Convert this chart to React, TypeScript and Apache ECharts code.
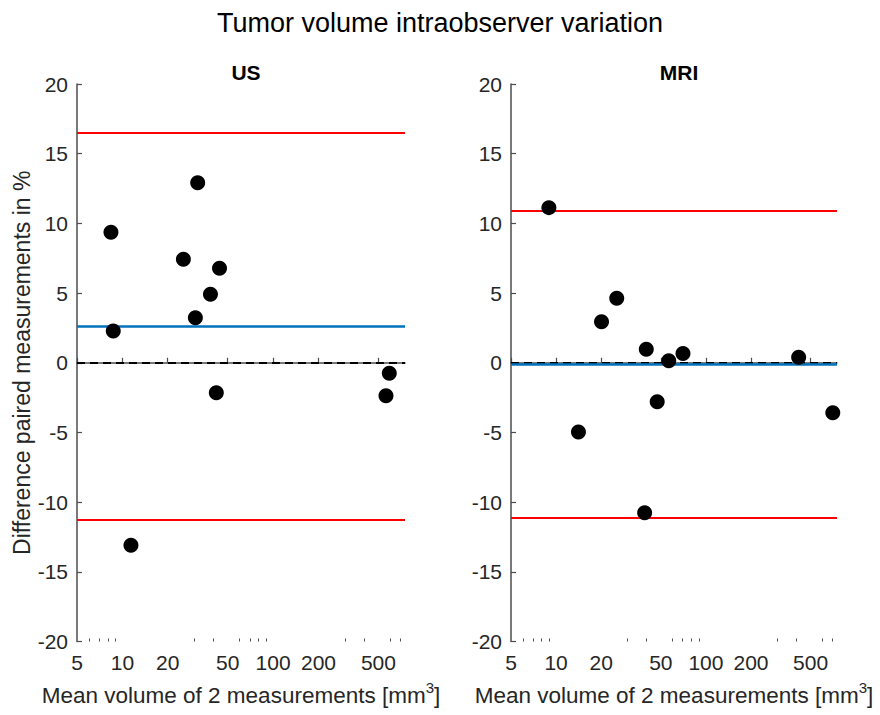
import React, { useEffect, useRef } from "react";
import * as echarts from "echarts";

const FONT = "Liberation Sans, Arial, Helvetica, sans-serif";
const TXT = "#262626";
const AXIS = "#4d4d4d";

const X_MIN = 5;
const X_MAX = 750;
const X_MAJOR = [5, 10, 20, 50, 100, 200, 500];
const X_MINOR = [6, 7, 8, 9, 30, 40, 60, 70, 80, 90, 300, 400, 600, 700];

const US_X = [8.4, 8.7, 25.4, 31.6, 44.1, 38.4, 30.5, 42, 590, 561, 11.4];
const US_Y = [9.36, 2.28, 7.42, 12.92, 6.78, 4.91, 3.23, -2.15, -0.76, -2.37, -13.09];
const US_LIMITS = { upper: 16.5, mean: 2.6, lower: -11.3 };

const MRI_X = [8.95, 20.1, 25.4, 40, 56.5, 70.3, 416, 47.3, 703, 14.1, 39];
const MRI_Y = [11.13, 2.94, 4.62, 0.96, 0.14, 0.67, 0.39, -2.8, -3.59, -4.97, -10.77];
const MRI_LIMITS = { upper: 10.9, mean: -0.08, lower: -11.1 };

const PANELS = ["US", "MRI"];

export default function App() {
  const ref = useRef<HTMLDivElement>(null);
  useEffect(() => {
    if (!ref.current) return;
    const chart = echarts.init(ref.current, null, { renderer: "svg" });
    const grids = [
      { left: 77, top: 84, width: 328, height: 557.5, outerBoundsMode: "none", containLabel: false },
      { left: 511, top: 84, width: 326, height: 557.5, outerBoundsMode: "none", containLabel: false },
    ];
    const xName = "{a|Mean volume of 2 measurements [mm}{s|3}{a|]}";
    const xAxes: any[] = [];
    const yAxes: any[] = [];
    [0, 1].forEach((g) => {
      xAxes.push({
        type: "log",
        logBase: 10,
        gridIndex: g,
        position: "bottom",
        min: X_MIN,
        max: X_MAX,
        name: xName,
        nameLocation: "middle",
        nameGap: 38,
        nameTextStyle: {
          rich: {
            a: { fontSize: 22.5, fontFamily: FONT, color: TXT, lineHeight: 32 },
            s: { fontSize: 15, fontFamily: FONT, color: TXT, verticalAlign: "top", lineHeight: 17 },
          },
        },
        axisLine: { show: true, lineStyle: { color: AXIS, width: 1.5 } },
        axisTick: { show: true, inside: true, length: 5, customValues: X_MAJOR, lineStyle: { color: AXIS, width: 1.2 } },
        axisLabel: {
          show: true,
          customValues: X_MAJOR,
          margin: 10,
          fontSize: 21,
          fontFamily: FONT,
          color: TXT,
          formatter: (v: number) => String(Math.round(v)),
        },
        splitLine: { show: false },
      });
      xAxes.push({
        type: "log",
        logBase: 10,
        gridIndex: g,
        position: "bottom",
        min: X_MIN,
        max: X_MAX,
        axisLine: { show: false },
        axisTick: { show: true, inside: true, length: 3, customValues: X_MINOR, lineStyle: { color: AXIS, width: 1 } },
        axisLabel: { show: false },
        splitLine: { show: false },
      });
      yAxes.push({
        type: "value",
        gridIndex: g,
        min: -20,
        max: 20,
        interval: 5,
        name: g === 0 ? "Difference paired measurements in %" : "",
        nameLocation: "middle",
        nameGap: 44,
        nameTextStyle: { fontSize: 23, fontFamily: FONT, color: TXT },
        axisLine: { show: true, lineStyle: { color: AXIS, width: 1.5 } },
        axisTick: { show: true, inside: true, length: 5, lineStyle: { color: AXIS, width: 1.2 } },
        axisLabel: { show: true, margin: 9, fontSize: 21, fontFamily: FONT, color: TXT },
        splitLine: { show: false },
      });
    });

    const series: any[] = [];
    const data = [
      { xs: US_X, ys: US_Y, lim: US_LIMITS },
      { xs: MRI_X, ys: MRI_Y, lim: MRI_LIMITS },
    ];
    data.forEach((d, g) => {
      const xi = g * 2;
      series.push({
        type: "line",
        xAxisIndex: xi,
        yAxisIndex: g,
        data: [],
        z: 1,
        markLine: {
          silent: true,
          symbol: ["none", "none"],
          label: { show: false },
          data: [
            { yAxis: 0, lineStyle: { color: "#000000", type: [8, 5], width: 2 } },
            { yAxis: d.lim.upper, lineStyle: { color: "#ff0000", type: "solid", width: 2.2 } },
            { yAxis: d.lim.lower, lineStyle: { color: "#ff0000", type: "solid", width: 2.2 } },
            { yAxis: d.lim.mean, lineStyle: { color: "#0072BD", type: "solid", width: 2.5 } },
          ],
        },
      });
      series.push({
        type: "scatter",
        xAxisIndex: xi,
        yAxisIndex: g,
        z: 5,
        symbol: "circle",
        symbolSize: 15,
        itemStyle: { color: "#000000", opacity: 1 },
        data: d.xs.map((x, i) => [x, d.ys[i]]),
      });
    });

    chart.setOption({
      animation: false,
      backgroundColor: "#ffffff",
      title: [
        {
          text: "Tumor volume intraobserver variation",
          left: "center",
          top: 4,
          textStyle: { fontSize: 27, fontWeight: "normal", fontFamily: FONT, color: "#000000" },
        },
        {
          text: PANELS[0],
          left: 241,
          top: 57,
          textAlign: "center",
          textStyle: { fontSize: 21, fontWeight: "bold", fontFamily: FONT, color: "#000000" },
        },
        {
          text: PANELS[1],
          left: 674,
          top: 57,
          textAlign: "center",
          textStyle: { fontSize: 21, fontWeight: "bold", fontFamily: FONT, color: "#000000" },
        },
      ],
      grid: grids,
      xAxis: xAxes,
      yAxis: yAxes,
      series,
    });
    return () => chart.dispose();
  }, []);
  return <div ref={ref} style={{ width: 880, height: 715, position: "absolute", left: 0, top: 0 }} />;
}
